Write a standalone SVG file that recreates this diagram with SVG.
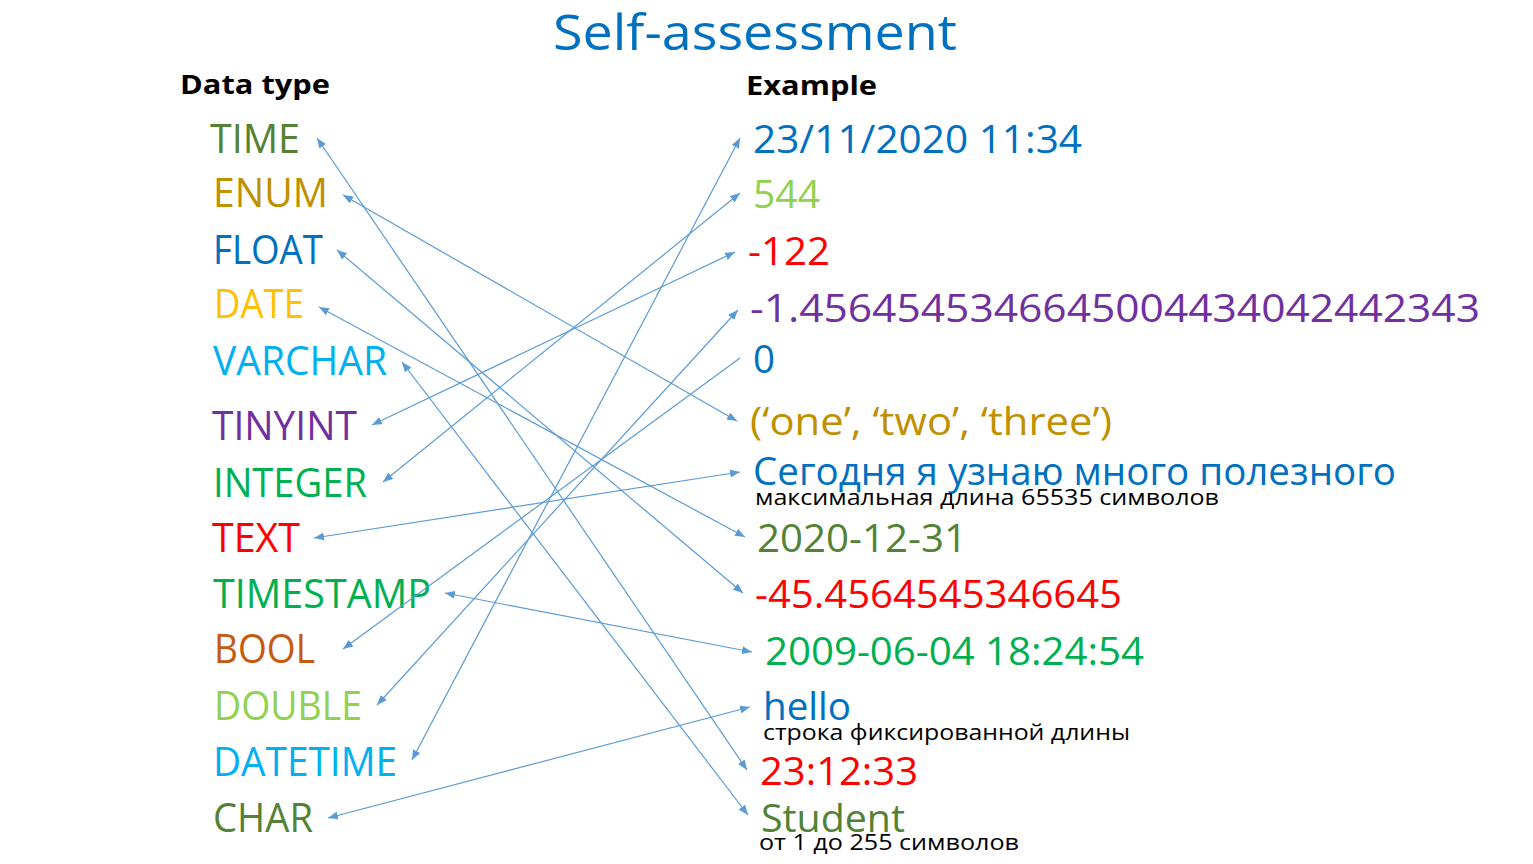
<svg xmlns="http://www.w3.org/2000/svg" width="1533" height="864" viewBox="0 0 1533 864">
<style>
text{font-family:"Open Sans","Noto Sans",sans-serif;}
.t{font-size:49px;fill:#0070C0;}
.h{font-size:27px;font-weight:bold;fill:#000;}
.l{font-size:40px;}
.r{font-size:38px;}
.s{font-size:22px;fill:#000;}
.c{stroke:#5B9BD5;stroke-width:1.2;fill:none;}
.bi{marker-start:url(#ah);marker-end:url(#ah);}
.un{marker-end:url(#ah);}
</style>
<defs>
<marker id="ah" viewBox="0 0 10 8" refX="10" refY="4" markerWidth="10" markerHeight="8" markerUnits="userSpaceOnUse" orient="auto-start-reverse"><path d="M0,0 L10,4 L0,8 z" fill="#5B9BD5"/></marker>
</defs>
<rect width="1533" height="864" fill="#fff"/>
<g id="title"><text class="t" x="553" y="50" textLength="404" lengthAdjust="spacingAndGlyphs">Self-assessment</text></g>
<g id="hdr-type"><text class="h" x="180" y="94" textLength="150" lengthAdjust="spacingAndGlyphs">Data type</text></g>
<g id="hdr-example"><text class="h" x="746" y="95" textLength="131" lengthAdjust="spacingAndGlyphs">Example</text></g>

<g id="types">
<g id="t-time"><text class="l" x="210" y="153" fill="#548235" textLength="90" lengthAdjust="spacingAndGlyphs">TIME</text></g>
<g id="t-enum"><text class="l" x="213" y="207" fill="#BF9000" textLength="115" lengthAdjust="spacingAndGlyphs">ENUM</text></g>
<g id="t-float"><text class="l" x="213" y="264" fill="#0070C0" textLength="110" lengthAdjust="spacingAndGlyphs">FLOAT</text></g>
<g id="t-date"><text class="l" x="214" y="318" fill="#FFC000" textLength="90" lengthAdjust="spacingAndGlyphs">DATE</text></g>
<g id="t-varchar"><text class="l" x="213" y="375" fill="#00B0F0" textLength="174" lengthAdjust="spacingAndGlyphs">VARCHAR</text></g>
<g id="t-tinyint"><text class="l" x="212" y="440" fill="#7030A0" textLength="145" lengthAdjust="spacingAndGlyphs">TINYINT</text></g>
<g id="t-integer"><text class="l" x="213" y="497" fill="#00B050" textLength="154" lengthAdjust="spacingAndGlyphs">INTEGER</text></g>
<g id="t-text"><text class="l" x="212" y="552" fill="#FF0000" textLength="88" lengthAdjust="spacingAndGlyphs">TEXT</text></g>
<g id="t-timestamp"><text class="l" x="213" y="608" fill="#00B050" textLength="218" lengthAdjust="spacingAndGlyphs">TIMESTAMP</text></g>
<g id="t-bool"><text class="l" x="214" y="663" fill="#C55A11" textLength="101" lengthAdjust="spacingAndGlyphs">BOOL</text></g>
<g id="t-double"><text class="l" x="214" y="720" fill="#92D050" textLength="148" lengthAdjust="spacingAndGlyphs">DOUBLE</text></g>
<g id="t-datetime"><text class="l" x="213" y="776" fill="#00B0F0" textLength="184" lengthAdjust="spacingAndGlyphs">DATETIME</text></g>
<g id="t-char"><text class="l" x="213" y="832" fill="#548235" textLength="100" lengthAdjust="spacingAndGlyphs">CHAR</text></g>
</g>

<g id="examples">
<g id="e-datetime"><text class="r" x="753" y="153" fill="#0070C0" textLength="329" lengthAdjust="spacingAndGlyphs">23/11/2020 11:34</text></g>
<g id="e-544"><text class="r" x="753" y="208" fill="#92D050" textLength="67" lengthAdjust="spacingAndGlyphs">544</text></g>
<g id="e-122"><text class="r" x="748" y="265" fill="#FF0000" textLength="82" lengthAdjust="spacingAndGlyphs">-122</text></g>
<g id="e-double"><text class="r" x="750" y="322" fill="#7030A0" textLength="730" lengthAdjust="spacingAndGlyphs">-1.4564545346645004434042442343</text></g>
<g id="e-0"><text class="r" x="753" y="373" fill="#0070C0" textLength="22" lengthAdjust="spacingAndGlyphs">0</text></g>
<g id="e-enum"><text class="r" x="750" y="435" fill="#BF9000" textLength="362" lengthAdjust="spacingAndGlyphs">(‘one’, ‘two’, ‘three’)</text></g>
<g id="e-text"><text class="r" x="753" y="485" fill="#0070C0" textLength="643" lengthAdjust="spacingAndGlyphs">Сегодня я узнаю много полезного</text>
<text class="s" x="755" y="505" textLength="464" lengthAdjust="spacingAndGlyphs">максимальная длина 65535 символов</text></g>
<g id="e-date"><text class="r" x="757" y="552" fill="#548235" textLength="210" lengthAdjust="spacingAndGlyphs">2020-12-31</text></g>
<g id="e-float"><text class="r" x="755" y="608" fill="#FF0000" textLength="367" lengthAdjust="spacingAndGlyphs">-45.4564545346645</text></g>
<g id="e-timestamp"><text class="r" x="765" y="665" fill="#00B050" textLength="379" lengthAdjust="spacingAndGlyphs">2009-06-04 18:24:54</text></g>
<g id="e-char"><text class="r" x="763" y="720" fill="#0070C0" textLength="88" lengthAdjust="spacingAndGlyphs">hello</text>
<text class="s" x="763" y="740" textLength="367" lengthAdjust="spacingAndGlyphs">строка фиксированной длины</text></g>
<g id="e-time"><text class="r" x="760" y="785" fill="#FF0000" textLength="158" lengthAdjust="spacingAndGlyphs">23:12:33</text></g>
<g id="e-varchar"><text class="r" x="761" y="832" fill="#548235" textLength="144" lengthAdjust="spacingAndGlyphs">Student</text>
<text class="s" x="759" y="850" textLength="260" lengthAdjust="spacingAndGlyphs">от 1 до 255 символов</text></g>
</g>

<g id="connectors">
<line class="c bi" x1="317" y1="138" x2="747" y2="770"/>
<line class="c bi" x1="343" y1="195" x2="737" y2="421"/>
<line class="c bi" x1="337" y1="250" x2="743" y2="593"/>
<line class="c bi" x1="319" y1="307" x2="745" y2="537"/>
<line class="c bi" x1="402" y1="362" x2="748" y2="815"/>
<line class="c bi" x1="372" y1="425" x2="735" y2="252"/>
<line class="c bi" x1="383" y1="482" x2="740" y2="193"/>
<line class="c bi" x1="314" y1="538" x2="740" y2="472"/>
<line class="c bi" x1="445" y1="593" x2="752" y2="652"/>
<line class="c un" x1="740" y1="358" x2="343" y2="649"/>
<line class="c bi" x1="377" y1="705" x2="738" y2="310"/>
<line class="c bi" x1="412" y1="760" x2="740" y2="138"/>
<line class="c bi" x1="328" y1="818" x2="750" y2="707"/>
</g>
</svg>
